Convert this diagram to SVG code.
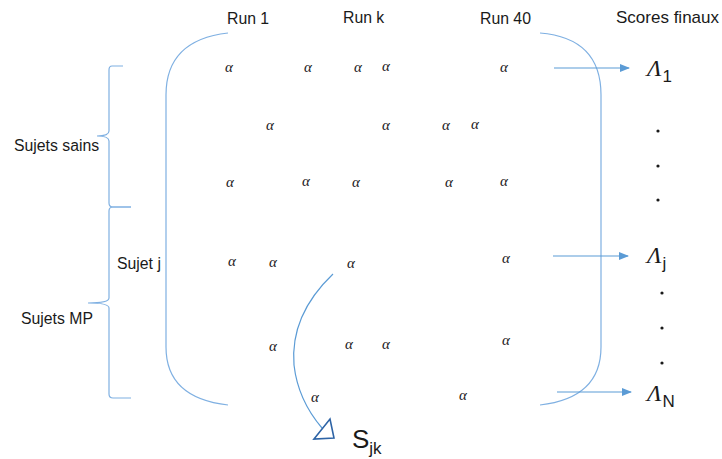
<svg xmlns="http://www.w3.org/2000/svg" width="722" height="459" viewBox="0 0 722 459">
<defs>
<style>
.lbl{font-family:"Liberation Sans",Arial,sans-serif;font-size:15.8px;fill:#1a1a1a}
.a{font-family:"Liberation Serif","Times New Roman",serif;font-style:italic;font-size:15px;fill:#1a1a1a;text-anchor:middle}
.br{fill:none;stroke:#7fb0e2;stroke-width:1.2}
.ar{fill:none;stroke:#5b9bd5;stroke-width:1.2}
.lam{font-family:"Liberation Serif","Times New Roman",serif;font-style:italic;font-size:24px;fill:#1a1a1a}
.sub{font-family:"Liberation Sans",Arial,sans-serif;font-style:normal;font-size:17px;fill:#1a1a1a}
.dot{fill:#1a1a1a}
</style>
<marker id="ah" markerWidth="10" markerHeight="8" refX="9" refY="4" orient="auto" markerUnits="userSpaceOnUse">
<path d="M0,0 L10,4 L0,8 Z" fill="#5b9bd5"/>
</marker>
</defs>
<rect width="722" height="459" fill="#ffffff"/>

<g id="titles">
<text class="lbl" x="227" y="24">Run 1</text>
<text class="lbl" x="343" y="23">Run k</text>
<text class="lbl" x="480" y="24">Run 40</text>
<text class="lbl" x="616" y="23" style="font-size:17px">Scores finaux</text>
</g>

<g id="brace-sains">
<path class="br" d="M123,66 L112,66 Q109,66 109,70 L109,131 Q109,136 97,136 Q109,136 109,141 L109,203 Q109,207 113,207 L131,207"/>
<text class="lbl" x="14" y="151">Sujets sains</text>
</g>
<g id="brace-mp">
<path class="br" d="M131,207 L113,207 Q109,207 109,211 L109,298 Q109,303 88,303 Q109,303 109,308 L109,394 Q109,398 113,398 L131,398"/>
<text class="lbl" x="21" y="324">Sujets MP</text>
</g>
<g id="sujet-j">
<text class="lbl" x="117" y="269">Sujet j</text>
</g>

<g id="matrix">
<path class="br" d="M228,33 Q166,40 166,95 L166,347 Q166,398 228,405"/>
<path class="br" d="M540,33 Q601,38 601,95 L601,347 Q601,398 540,405"/>
<g id="alphas">
<text class="a" x="229" y="72">α</text>
<text class="a" x="308" y="72">α</text>
<text class="a" x="358" y="72">α</text>
<text class="a" x="386" y="71">α</text>
<text class="a" x="504" y="72">α</text>
<text class="a" x="270" y="130">α</text>
<text class="a" x="386" y="130">α</text>
<text class="a" x="446" y="130">α</text>
<text class="a" x="475" y="129">α</text>
<text class="a" x="230" y="187">α</text>
<text class="a" x="306" y="186">α</text>
<text class="a" x="356" y="187">α</text>
<text class="a" x="449" y="187">α</text>
<text class="a" x="504" y="186">α</text>
<text class="a" x="232" y="266">α</text>
<text class="a" x="273" y="267">α</text>
<text class="a" x="351" y="268">α</text>
<text class="a" x="506" y="263">α</text>
<text class="a" x="273" y="351">α</text>
<text class="a" x="349" y="349">α</text>
<text class="a" x="386" y="349">α</text>
<text class="a" x="506" y="345">α</text>
<text class="a" x="315" y="402">α</text>
<text class="a" x="463" y="400">α</text>
</g>
</g>

<g id="connectors">
<line class="ar" x1="554" y1="68" x2="629" y2="68" marker-end="url(#ah)"/>
<line class="ar" x1="553" y1="256" x2="628" y2="256" marker-end="url(#ah)"/>
<line class="ar" x1="557" y1="392" x2="631" y2="392" marker-end="url(#ah)"/>
<path class="ar" d="M333,274 Q290,315 294,365 Q298,400 322,428" stroke-width="1"/>
<path d="M314,439 L330,419 L334,438 Z" fill="#ffffff" stroke="#2e64a6" stroke-width="1.6" stroke-linejoin="miter"/>
</g>

<g id="scores">
<text class="lam" x="647" y="76">Λ<tspan class="sub" dy="6" dx="1">1</tspan></text>
<circle class="dot" cx="658" cy="131" r="1.6"/>
<circle class="dot" cx="658" cy="166" r="1.6"/>
<circle class="dot" cx="658" cy="200" r="1.6"/>
<text class="lam" x="647" y="263">Λ<tspan class="sub" dy="6" dx="1">j</tspan></text>
<circle class="dot" cx="662" cy="293" r="1.6"/>
<circle class="dot" cx="662" cy="328" r="1.6"/>
<circle class="dot" cx="662" cy="363" r="1.6"/>
<text class="lam" x="647" y="401">Λ<tspan class="sub" dy="6" dx="1">N</tspan></text>
</g>

<g id="sjk">
<text x="352" y="448" font-family="Liberation Sans, Arial, sans-serif" font-size="26" fill="#1a1a1a">S<tspan font-size="17" dy="6">jk</tspan></text>
</g>
</svg>
